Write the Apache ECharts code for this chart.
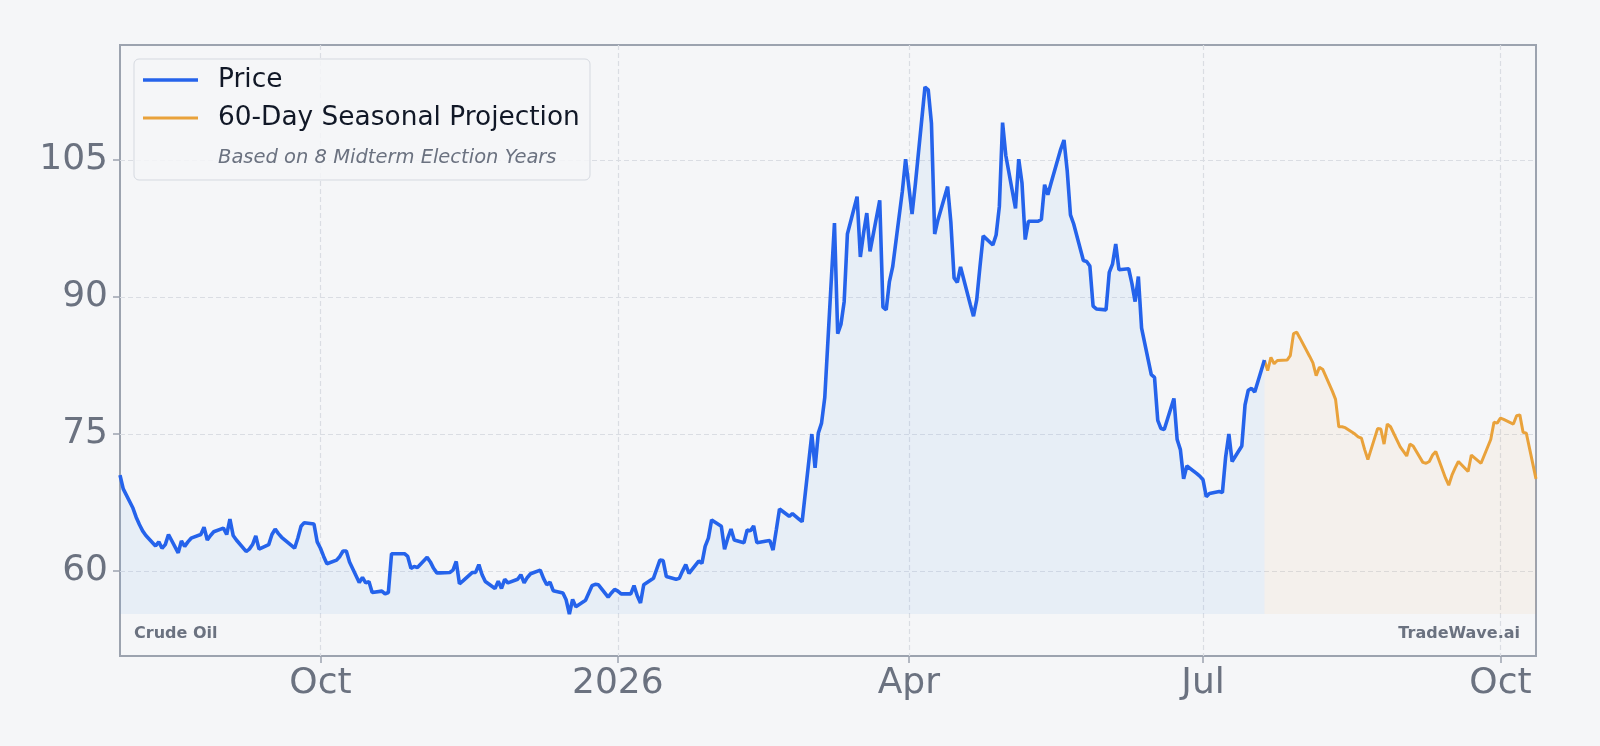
<!DOCTYPE html>
<html>
<head>
<meta charset="utf-8">
<title>Crude Oil</title>
<script src="https://cdn.jsdelivr.net/npm/echarts@6/dist/echarts.min.js"></script>
<style>
  html, body { margin: 0; padding: 0; background: #f5f6f8; }
  #chart { width: 1600px; height: 746px; }
</style>
</head>
<body>
<div id="chart"></div>
<script>
// daily closes, one per weekday from 2025-07-31 to 2026-07-20
const priceStart = [2025, 6, 31];
const priceValues = [
  70.5, 69.0,
  66.9, 65.9, 65.1, 64.4, 63.9,
  62.75, 63.2, 62.5, 62.9, 64.0,
  62.0, 63.3, 62.7, 63.2, 63.6,
  64.0, 64.8, 63.4, 63.9, 64.3,
  64.7, 64.0, 65.7, 63.9, 63.4,
  62.15, 62.4, 62.9, 63.85, 62.4,
  62.9, 64.0, 64.6, 64.1, 63.7,
  62.8, 62.5, 63.6, 64.9, 65.3,
  65.15, 63.2, 62.5, 61.6, 60.8,
  61.2, 61.6, 62.2, 62.2, 61.0,
  58.75, 59.3, 58.7, 58.85, 57.65,
  57.8, 57.5, 57.65, 61.9, 61.9,
  61.9, 61.6, 60.3, 60.5, 60.4,
  61.5, 61.0, 60.3, 59.8, 59.8,
  59.85, 60.1, 61.05, 58.6, 58.9,
  59.85, 59.85, 60.7, 59.6, 58.85,
  58.1, 58.9, 58.1, 59.1, 58.7,
  59.1, 59.6, 58.7, 59.3, 59.7,
  60.1, 59.2, 58.5, 58.8, 57.85,
  57.6, 56.85, 55.3, 56.9, 56.1,
  56.8, 57.6, 58.4, 58.55, 58.5,
  57.15, 57.6, 58.0, 57.8, 57.5,
  57.5, 58.4, 57.3, 56.5, 58.5,
  59.2, 60.2, 61.2, 61.15, 59.4,
  59.1, 59.2, 60.0, 60.7, 59.75,
  61.1, 60.85, 62.7, 63.6, 65.6,
  64.9, 62.4, 63.6, 64.6, 63.4,
  63.1, 64.5, 64.4, 64.95, 63.1,
  63.3, 63.35, 62.3, 64.5, 66.8,
  66.0, 66.3, 66.0, 65.7, 65.4,
  75.0, 71.3, 75.1, 76.2, 79.0,
  98.1, 86.0, 87.0, 89.5, 96.9,
  101.0, 94.4, 97.0, 99.2, 95.0,
  100.6, 88.9, 88.6, 91.7, 93.3,
  101.6, 105.1, 102.1, 99.1, 102.3,
  113.0, 112.7, 109.0, 96.9, 98.45,
  102.1, 98.2, 92.1, 91.6, 93.3,
  89.2, 87.9, 89.7, 93.3, 96.7,
  95.7, 96.8, 99.9, 109.1, 105.5,
  99.7, 105.1, 102.5, 96.3, 98.3,
  98.3, 98.5, 102.3, 101.2, 102.5,
  106.2, 107.2, 103.8, 99.0, 98.0,
  94.0, 93.9, 93.4, 89.0, 88.7,
  88.6, 92.7, 93.6, 95.8, 93.0,
  93.1, 91.5, 89.5, 92.25, 86.6,
  81.5, 81.2, 76.5, 75.6, 75.5,
  78.9, 74.4, 73.3, 70.1, 71.5,
  70.7, 70.4, 70.0, 68.15, 68.5,
  68.7, 68.6, 72.5, 75.0, 72.0,
  73.7, 78.2, 79.8, 80.0, 79.6,
  83.1
];

// 60 weekdays of projection from 2026-07-21
const projStart = [2026, 6, 21];
const projValues = [
  81.95, 83.4, 82.7, 83.05,
  83.1, 83.6, 86.0, 86.15, 85.5,
  83.5, 82.8, 81.4, 82.3, 82.1,
  79.7, 78.8, 75.8, 75.8, 75.7,
  75.0, 74.7, 74.55, 73.3, 72.2,
  75.6, 75.55, 73.9, 76.1, 75.8,
  73.6, 73.1, 72.6, 73.9, 73.7,
  71.9, 71.8, 72.0, 72.7, 73.1,
  70.2, 69.4, 70.5, 71.3, 72.0,
  70.9, 72.7, 72.4, 72.1, 71.8,
  74.4, 76.3, 76.2, 76.75, 76.6,
  76.1, 77.0, 77.1, 75.2, 75.1,
  70.1
];

const yTicks = [60, 75, 90, 105];
const xTicks = [[2025, 9, 1], [2026, 0, 1], [2026, 3, 1], [2026, 6, 1], [2026, 9, 1]];
const monthNames = ['Jan', 'Feb', 'Mar', 'Apr', 'May', 'Jun', 'Jul', 'Aug', 'Sep', 'Oct', 'Nov', 'Dec'];

const gray = '#6b7280';
const font = 'DejaVu Sans';

function weekdays(start, count) {
  const out = [];
  const d = new Date(start[0], start[1], start[2]);
  while (out.length < count) {
    const wd = d.getDay();
    if (wd !== 0 && wd !== 6) out.push(d.getTime());
    d.setDate(d.getDate() + 1);
  }
  return out;
}

const priceDates = weekdays(priceStart, priceValues.length);
const projDates = weekdays(projStart, projValues.length);
const priceData = priceDates.map((t, i) => [t, priceValues[i]]);
const last = priceData[priceData.length - 1];
const projData = [last].concat(projDates.map((t, i) => [t, projValues[i]]));
const floor = Math.min(...priceValues);
const tickTimes = xTicks.map(d => new Date(d[0], d[1], d[2]).getTime());

const chart = echarts.init(document.getElementById('chart'));
chart.setOption({
  backgroundColor: '#f5f6f8',
  animation: false,
  textStyle: { fontFamily: font },
  grid: {
    left: 120, right: 64, top: 45, bottom: 90,
    show: true, borderColor: '#9ca3af', borderWidth: 2, backgroundColor: 'transparent',
  },
  xAxis: {
    // dates as plain timestamps so the custom ticks can be placed exactly
    type: 'value',
    min: priceDates[0],
    max: projDates[projDates.length - 1],
    axisLine: { show: false },
    axisTick: { show: true, length: 7, customValues: tickTimes, lineStyle: { color: '#9ca3af', width: 1.5 } },
    axisLabel: {
      customValues: tickTimes,
      fontSize: 36, color: gray, margin: 10,
      formatter: (v) => {
        const d = new Date(v);
        return d.getMonth() === 0 ? String(d.getFullYear()) : monthNames[d.getMonth()];
      },
    },
    splitLine: { show: true, lineStyle: { color: '#dadde3', type: [5, 3], width: 1.2 } },
  },
  yAxis: {
    type: 'value',
    min: 50.7,
    max: 117.6,
    axisLine: { show: false },
    axisTick: { show: true, length: 7, customValues: yTicks, lineStyle: { color: '#9ca3af', width: 1.5 } },
    axisLabel: { customValues: yTicks, fontSize: 36, color: gray, margin: 12 },
    splitLine: { show: true, lineStyle: { color: '#dadde3', type: [5, 3], width: 1.2 } },
  },
  series: [
    {
      name: 'Price',
      type: 'line',
      data: priceData,
      showSymbol: false,
      z: 3,
      lineStyle: { color: '#2563eb', width: 3.6 },
      itemStyle: { color: '#2563eb' },
      areaStyle: { color: 'rgba(112,173,235,0.15)', origin: floor },
    },
    {
      name: '60-Day Seasonal Projection',
      type: 'line',
      data: projData,
      showSymbol: false,
      z: 2,
      lineStyle: { color: '#e9a23b', width: 3 },
      itemStyle: { color: '#e9a23b' },
      areaStyle: { color: 'rgba(233,162,59,0.09)', origin: floor },
    },
  ],
  graphic: [
    {
      type: 'rect', z: 10,
      shape: { x: 134, y: 59, width: 456, height: 121, r: 5 },
      style: { fill: 'rgba(245,246,248,0.85)', stroke: '#d5d9e0', lineWidth: 1 },
    },
    { type: 'line', z: 11, shape: { x1: 143, y1: 80, x2: 198, y2: 80 }, style: { stroke: '#2563eb', lineWidth: 3.6 } },
    { type: 'line', z: 11, shape: { x1: 143, y1: 118, x2: 198, y2: 118 }, style: { stroke: '#e9a23b', lineWidth: 3 } },
    {
      type: 'text', z: 11, x: 218, y: 80,
      style: { text: 'Price', fontSize: 26.4, fontFamily: font, fill: '#111827', verticalAlign: 'middle' },
    },
    {
      type: 'text', z: 11, x: 218, y: 118,
      style: { text: '60-Day Seasonal Projection', fontSize: 26.4, fontFamily: font, fill: '#111827', verticalAlign: 'middle' },
    },
    {
      type: 'text', z: 11, x: 218, y: 158,
      style: { text: 'Based on 8 Midterm Election Years', fontSize: 19.5, fontStyle: 'italic', fontFamily: font, fill: gray, verticalAlign: 'middle' },
    },
    {
      type: 'text', z: 11, x: 134, y: 634,
      style: { text: 'Crude Oil', fontSize: 16, fontWeight: 'bold', fontFamily: font, fill: gray, verticalAlign: 'middle' },
    },
    {
      type: 'text', z: 11, x: 1520, y: 634,
      style: { text: 'TradeWave.ai', fontSize: 16, fontWeight: 'bold', fontFamily: font, fill: gray, align: 'right', verticalAlign: 'middle' },
    },
  ],
});
</script>
</body>
</html>
